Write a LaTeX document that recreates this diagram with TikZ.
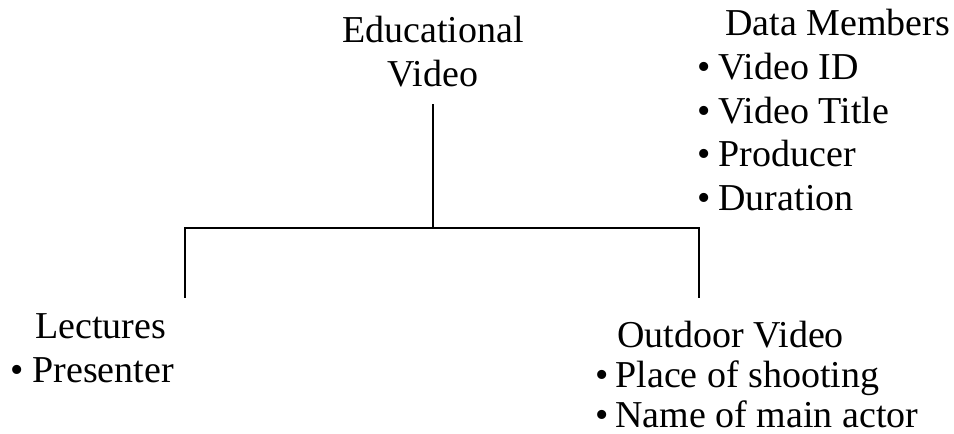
\documentclass[tikz,border=0pt]{standalone}
\usepackage{fontspec}
\setmainfont{Liberation Serif}
\begin{document}
\begin{tikzpicture}[x=1bp,y=-1bp,
  txt/.style={inner sep=0pt, align=left, anchor=north west},
  conn/.style={line width=1.8bp, black}]
\useasboundingbox (0,0) rectangle (954,434);
\newcommand{\bul}[1]{\textbullet\hspace{#1bp}}
\node[inner sep=0pt, align=center, anchor=north,
  font=\fontsize{38bp}{44bp}\selectfont] (ev) at (433,16) {Educational\\Video};
\node[txt, font=\fontsize{38bp}{43.75bp}\selectfont] (dm) at (697,9)
  {\hspace{28bp}Data Members\\\bul{8}Video ID\\\bul{8}Video Title\\\bul{8}Producer\\\bul{8}Duration};
\node[txt, font=\fontsize{38bp}{44bp}\selectfont] (lec) at (10,313)
  {\hspace{25bp}Lectures\\\bul{9}Presenter};
\node[txt, font=\fontsize{38bp}{40bp}\selectfont] (out) at (595,321)
  {\hspace{22bp}Outdoor Video\\\bul{7}Place of shooting\\\bul{7}Name of main actor};
\coordinate (j) at (433,228);
\coordinate (lt) at (185,298);
\coordinate (rt) at (699,298);
\draw[conn, shorten <=17bp] (ev.south) -- (j);
\draw[conn] (lt) |- (j) -| (rt);
\end{tikzpicture}
\end{document}
